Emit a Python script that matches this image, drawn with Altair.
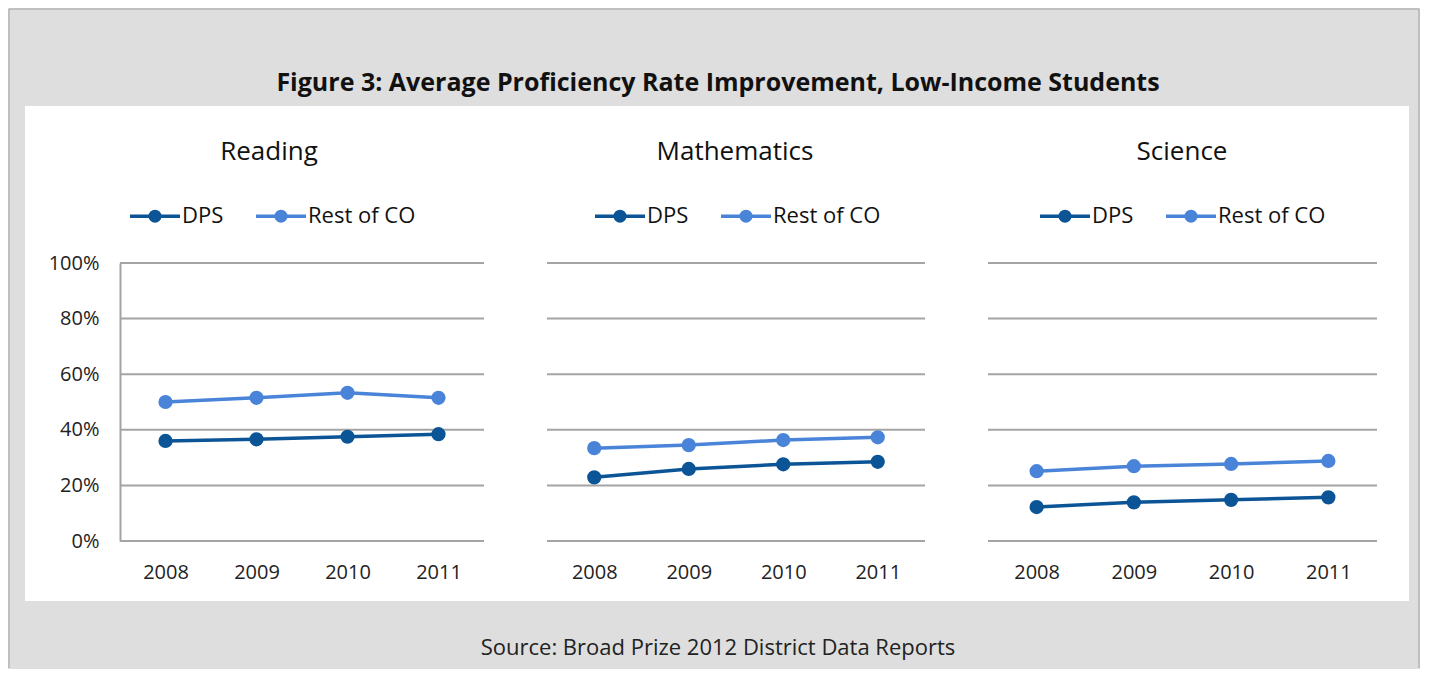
import altair as alt
import pandas as pd

# ---------------- data ----------------
years = ["2008", "2009", "2010", "2011"]
series = ["DPS", "Rest of CO"]
subjects = ["Reading", "Mathematics", "Science"]
reading_dps = [36.0, 36.6, 37.5, 38.4]
reading_rest = [50.0, 51.5, 53.3, 51.5]
math_dps = [22.9, 25.9, 27.6, 28.5]
math_rest = [33.4, 34.5, 36.3, 37.3]
science_dps = [12.2, 13.9, 14.8, 15.7]
science_rest = [25.1, 26.9, 27.7, 28.8]
y_ticks = [0, 20, 40, 60, 80, 100]
fig_title = ["Figure 3: Average Proficiency Rate Improvement, Low-Income Students"]
source_text = ["Source: Broad Prize 2012 District Data Reports"]
series_colors = ["#0b5597", "#4a84d9"]

# ---------------- styles ----------------
FONT = "Open Sans"
GRID = "#a4a4a4"
BG = "#dedede"
HEIGHT = 278
LEGEND_PATH = ("M-1,0L1,0"
               "M-0.07,0a0.07,0.07 0 1,0 0.14,0a0.07,0.07 0 1,0 -0.14,0"
               "M-0.19,0a0.19,0.19 0 1,0 0.38,0a0.19,0.19 0 1,0 -0.38,0")

color_scale = alt.Scale(domain=series, range=series_colors)
y_scale = alt.Scale(domain=[0, 100], nice=False, zero=True)


def one_row():
    return pd.DataFrame({"k": [0]})


def panel(name, dps, rest, width, legend_x, title_x, show_y, extra=None, front=None):
    df = pd.DataFrame({
        "Year": years * 2,
        "Series": [series[0]] * len(years) + [series[1]] * len(years),
        "Value": dps + rest,
    })
    if show_y:
        y_axis = alt.Axis(title=None, values=y_ticks, labelExpr="datum.value + '%'",
                          grid=False, ticks=False, domain=True, domainColor=GRID,
                          domainWidth=2, labelPadding=21, labelFont=FONT,
                          labelFontSize=20, labelColor="#222", zindex=1)
    else:
        y_axis = None
    x_enc = alt.X("Year:O", scale=alt.Scale(type="point", padding=0.5),
                  axis=alt.Axis(title=None, labelAngle=0, domain=False, ticks=False,
                                grid=False, labelPadding=21, labelFont=FONT,
                                labelFontSize=20, labelColor="#222", zindex=1))
    y_enc = alt.Y("Value:Q", scale=y_scale, axis=y_axis)
    legend = alt.Legend(orient="none", legendX=legend_x, legendY=-74,
                        direction="horizontal", title=None,
                        symbolType=LEGEND_PATH, symbolSize=2500,
                        symbolStrokeWidth=3.5, labelFont=FONT, labelFontSize=22,
                        labelColor="#111", labelOffset=0, columnPadding=25,
                        padding=0)

    layers = []
    if extra:
        layers += extra
    grid = alt.Chart(pd.DataFrame({"v": y_ticks})).mark_rule(
        color=GRID, strokeWidth=2).encode(
        y=alt.Y("v:Q", scale=y_scale, axis=y_axis),
        x=alt.value(0), x2=alt.value(width))
    layers.append(grid)
    title_layer = alt.Chart(pd.DataFrame({"t": [name]})).mark_text(
        font=FONT, fontSize=26, color="#111", align="center",
        baseline="alphabetic").encode(text="t:N", x=alt.value(title_x),
                                       y=alt.value(-103))
    layers.append(title_layer)
    line = alt.Chart(df).mark_line(strokeWidth=3.5).encode(
        x=x_enc, y=y_enc,
        stroke=alt.Stroke("Series:N", scale=color_scale, legend=legend))
    pts = alt.Chart(df).mark_point(filled=True, size=150, opacity=1).encode(
        x=x_enc, y=y_enc,
        fill=alt.Fill("Series:N", scale=color_scale, legend=legend),
        stroke=alt.Stroke("Series:N", scale=color_scale, legend=legend))
    layers += [line, pts]
    if front:
        layers += front
    return alt.layer(*layers).properties(width=width, height=HEIGHT)


# background pieces in panel-1 coordinates
extent = alt.Chart(one_row()).mark_rect(fill="transparent").encode(
    x=alt.value(-112), x2=alt.value(1300), y=alt.value(-255), y2=alt.value(405))
white = alt.Chart(one_row()).mark_rect(fill="white").encode(
    x=alt.value(-95), x2=alt.value(1289), y=alt.value(-157), y2=alt.value(338))
b_top = alt.Chart(one_row()).mark_rule(color="#b4b4b4", strokeWidth=1.5).encode(
    x=alt.value(-111), x2=alt.value(1299), y=alt.value(-254))
b_left = alt.Chart(one_row()).mark_rule(color="#b4b4b4", strokeWidth=1.5).encode(
    x=alt.value(-111), y=alt.value(-254), y2=alt.value(405))
b_right = alt.Chart(one_row()).mark_rule(color="#b4b4b4", strokeWidth=1.5).encode(
    x=alt.value(1299), y=alt.value(-254), y2=alt.value(405))

main_title = alt.Chart(pd.DataFrame({"t": fig_title})).mark_text(
    font=FONT, fontSize=25, fontWeight="bold", color="#111", align="center",
    baseline="alphabetic").encode(text="t:N", x=alt.value(171), y=alt.value(-172))
source = alt.Chart(pd.DataFrame({"t": source_text})).mark_text(
    font=FONT, fontSize=22, color="#222", align="center",
    baseline="alphabetic").encode(text="t:N", x=alt.value(171), y=alt.value(392))

p1 = panel(subjects[0], reading_dps, reading_rest, 364, 8, 149, True,
           extra=[extent, white, b_top, b_left, b_right])
p2 = panel(subjects[1], math_dps, math_rest, 378, 46, 188, False,
           front=[main_title, source])
p3 = panel(subjects[2], science_dps, science_rest, 389, 50, 194, False)

chart = alt.hconcat(p1, p2, p3, spacing=63).properties(
    bounds="flush", padding=0, background=BG
).resolve_scale(fill="independent", stroke="independent").resolve_legend(
    fill="independent", stroke="independent"
).configure_view(stroke=None)

chart.save("out.html", embed_options={"renderer": "svg", "actions": False})
